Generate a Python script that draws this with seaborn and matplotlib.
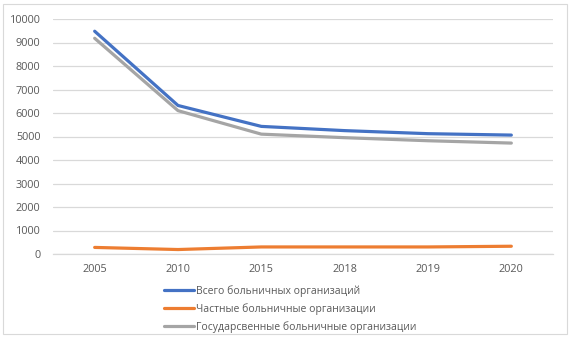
import matplotlib
matplotlib.use("Agg")
import matplotlib.pyplot as plt
import seaborn as sns
import pandas as pd
from matplotlib.patches import Rectangle

years = ["2005", "2010", "2015", "2018", "2019", "2020"]
total = [9480, 6320, 5430, 5250, 5120, 5060]
private = [280, 190, 300, 300, 300, 330]
state = [9180, 6100, 5100, 4950, 4820, 4720]
series_names = ["Всего больничных организаций",
                "Частные больничные организации",
                "Государсвенные больничные организации"]
colors = ["#4472C4", "#ED7D31", "#A5A5A5"]

rows = []
for name, vals in zip(series_names, [total, private, state]):
    for y, v in zip(years, vals):
        rows.append({"year": y, "value": v, "series": name})
df = pd.DataFrame(rows)

sns.set_theme(style="white")
plt.rcParams["font.family"] = ["Open Sans", "DejaVu Sans"]

fig = plt.figure(figsize=(5.71, 3.37), dpi=100)
ax = fig.add_axes([53/571, 1-254/337, 500/571, 235/337])

sns.lineplot(data=df, x="year", y="value", hue="series", palette=colors,
             hue_order=series_names, linewidth=2.3, ax=ax, legend=False,
             sort=False)

ax.set_xlim(-0.5, 5.5)
ax.set_ylim(0, 10000)
ax.set_yticks(range(0, 10001, 1000))
ax.yaxis.grid(True, color="#D9D9D9", linewidth=0.9)
ax.set_axisbelow(True)
for s in ["top", "right", "left"]:
    ax.spines[s].set_visible(False)
ax.spines["bottom"].set_color("#D9D9D9")
ax.spines["bottom"].set_linewidth(0.9)
ax.tick_params(axis="both", length=0, labelsize=7.8, colors="#595959", pad=7)
ax.tick_params(axis="y", pad=9)
ax.set_xlabel("")
ax.set_ylabel("")

handles = [plt.Line2D([], [], color=c, linewidth=2.3) for c in colors]
fig.legend(handles, series_names, loc="upper left",
           bbox_to_anchor=(164/571, 1-285/337), frameon=False,
           fontsize=7.5, labelcolor="#595959", handlelength=2.9,
           handletextpad=0.15, labelspacing=0.6, borderpad=0, borderaxespad=0)

fig.patches.append(Rectangle((3/571, 3/337), 564/571, 330/337,
                             transform=fig.transFigure, fill=False,
                             edgecolor="#D9D9D9", linewidth=0.8))

fig.savefig("out.png", dpi=100)
